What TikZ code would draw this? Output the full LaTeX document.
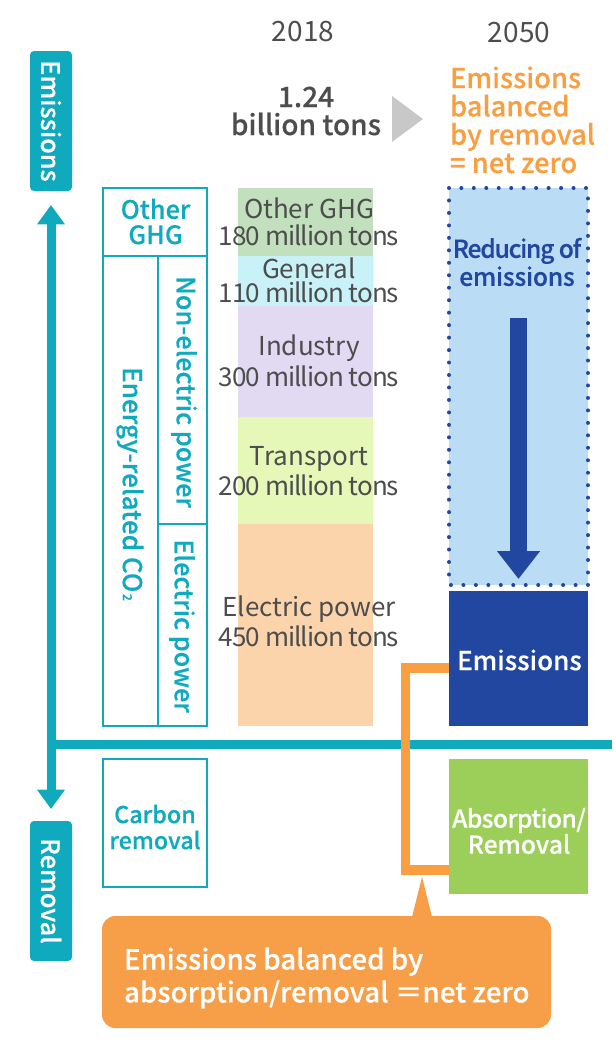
\documentclass[tikz,border=0pt]{standalone}
\usepackage{fontspec}
\setmainfont[BoldFont={Noto Sans CJK JP Medium},BoldFeatures={FakeBold=0.35}]{Noto Sans CJK JP}
\usetikzlibrary{arrows.meta,calc}
\definecolor{teal}{HTML}{10AABF}
\definecolor{orng}{HTML}{F99F42}
\definecolor{calloutc}{HTML}{F79E48}
\definecolor{navy}{HTML}{2247A0}
\definecolor{txtg}{HTML}{4D4D4D}
\definecolor{grn}{HTML}{9BCF5A}
\definecolor{bGhg}{HTML}{C3E0BE}
\definecolor{bGen}{HTML}{C9F1F8}
\definecolor{bInd}{HTML}{E2DAF3}
\definecolor{bTra}{HTML}{E6F8B8}
\definecolor{bEle}{HTML}{FBD4AC}
\definecolor{bRed}{HTML}{BADCF5}
\definecolor{arrg}{HTML}{C8C8C8}
\newcommand\tons[1]{{\addfontfeature{LetterSpace=-3.8}#1 million tons}}
\tikzset{
  x=0.75pt,y=-0.75pt,
  plain/.style={inner sep=0pt,outer sep=0pt},
  bar/.style={plain,anchor=north west,minimum width=101.25pt},
  barlab/.style={plain,align=center,text=txtg,font=\fontsize{19.5}{20}\selectfont},
  tealbox/.style={plain,fill=teal,rounded corners=3pt,text=white,font=\bfseries\fontsize{19}{20}\selectfont,rotate=-90,minimum width=105pt,minimum height=31.5pt},
  cell/.style={draw=teal,line width=0.9pt,plain},
  celllab/.style={plain,align=center,text=teal,font=\bfseries\fontsize{19}{19}\selectfont},
  sidelab/.style={plain,text=teal,font=\bfseries\fontsize{19}{20}\selectfont,rotate=-90},
  axis/.style={draw=teal,line width=6.75pt},
  axisarrow/.style={axis,-{Triangle[length=14.5pt,width=20pt]}},
  bracket/.style={draw=orng,line width=7pt},
}
\begin{document}
\begin{tikzpicture}
\useasboundingbox (0,0) rectangle (616,1040);
% year labels
\node[plain,text=txtg,font=\fontsize{21}{22}\selectfont] (y18) at (303,32) {2018};
\node[plain,text=txtg,font=\fontsize{21}{22}\selectfont] (y50) at (519,33) {2050};
\node[plain,align=center,text=txtg,font=\bfseries\fontsize{21}{21}\selectfont] (tot) at (306,111) {1.24\\billion tons};
\fill[arrg] (392,96) -- (423,119) -- (392,142) -- cycle;
\node[plain,anchor=north west,align=left,text=orng,font=\bfseries\fontsize{20.5}{21.2}\selectfont] (bal) at (450,66.5) {Emissions\\balanced\\by removal\\= net zero};
% axis labels
\node[tealbox] (emlab) at (51,121) {Emissions};
\node[tealbox] (rmlab) at (51,891) {Removal};
% axis
\coordinate (axTop) at (51,205);
\coordinate (axBot) at (51,809);
\coordinate (axMid) at (51,744);
\coordinate (axEnd) at (612,744);
\draw[axisarrow] (axMid) -- (axTop);
\draw[axisarrow] (axMid) -- (axBot);
\draw[axis] (47.5,744) -- (axEnd);
% left table
\node[cell,anchor=north west,minimum width=78pt,minimum height=51pt] (tOther) at (103,188) {};
\node[celllab] (lOther) at (155.5,221.5) {Other\\GHG};
\node[cell,anchor=north west,minimum width=41.25pt,minimum height=352.5pt] (tEnergy) at (103,256) {};
\node[cell,anchor=north west,minimum width=36.75pt,minimum height=201pt] (tNon) at (158,256) {};
\node[cell,anchor=north west,minimum width=36.75pt,minimum height=151.5pt] (tEl) at (158,524) {};
\node[sidelab,font=\bfseries\fontsize{19.5}{20}\selectfont] (lEnergy) at (130,484) {Energy-related CO\kern1pt{\fontsize{9.5}{10}\selectfont 2}};
\node[sidelab] (lNon) at (184,392) {Non-electric power};
\node[sidelab] (lEl) at (182,626) {Electric power};
\node[cell,anchor=north west,minimum width=78pt,minimum height=96pt] (tCarbon) at (103,759) {};
\node[celllab,font=\bfseries\fontsize{17.5}{19.5}\selectfont] (lCarbon) at (155,827) {Carbon\\removal};
% 2018 bars
\node[bar,fill=bGhg,minimum height=51pt] (b1) at (238,188) {};
\node[bar,fill=bGen,minimum height=37.5pt] (b2) at (238,256) {};
\node[bar,fill=bInd,minimum height=83.25pt] (b3) at (238,306) {};
\node[bar,fill=bTra,minimum height=80.25pt] (b4) at (238,417) {};
\node[bar,fill=bEle,minimum height=151.5pt] (b5) at (238,524) {};
\node[barlab] (l1) at (309,221.5) {Other GHG\\\tons{180}};
\node[barlab] (l2) at (309,280.5) {General\\[-2.25pt]\tons{110}};
\node[barlab] (l3) at (309,360.5) {Industry\\[2.25pt]\tons{300}};
\node[barlab] (l4) at (309,471) {Transport\\[2.25pt]\tons{200}};
\node[barlab] (l5) at (309,621.5) {Electric power\\[2.25pt]\tons{450}};
% 2050 column
\fill[bRed] (449,188) rectangle (588,585);
\node[plain,align=center,text=navy,font=\bfseries\fontsize{18.5}{21}\selectfont] (red) at (517,262) {{\addfontfeature{LetterSpace=-5}Reducing of}\\{\addfontfeature{LetterSpace=-1}emissions}};
\draw[navy,line width=3pt,line cap=round,dash pattern=on 0pt off 9.35pt] (449,188) rectangle (588,585);
\coordinate (dnTop) at (518.5,318);
\coordinate (dnTip) at (518.5,579);
\draw[navy,line width=13pt,-{Triangle[length=21pt,width=31pt]}] (dnTop) -- (dnTip);
\node[plain,anchor=north west,fill=navy,minimum width=104.25pt,minimum height=101.25pt] (em) at (449,591) {};
\node[plain,text=white,font=\bfseries\fontsize{19.5}{20}\selectfont] (emt) at (519.5,660) {Emissions};
\node[plain,anchor=north west,fill=grn,minimum width=104.25pt,minimum height=101.25pt] (abs) at (449,759) {};
\node[plain,align=center,text=white,font=\bfseries\fontsize{18.5}{19.5}\selectfont] (labs) at (519,831) {{\addfontfeature{LetterSpace=-2.5}Absorption/}\\Removal};
% bracket
\coordinate (brA) at (449,668);
\coordinate (brB) at (449,870);
\draw[bracket] (brA) -- ++(-43.5,0) |- (brB);
% callout
\fill[calloutc] (412,917) -- (422,877) -- (432,917) -- cycle;
\node[plain,anchor=north west,fill=calloutc,rounded corners=10pt,minimum width=336.75pt,minimum height=84pt] (call) at (102,916) {};
\node[plain,anchor=west,align=left,text=white,font=\bfseries\fontsize{20.8}{24.7}\selectfont] (callt) at (124,978) {Emissions balanced by\\absorption/removal ＝net zero};
\end{tikzpicture}
\end{document}
